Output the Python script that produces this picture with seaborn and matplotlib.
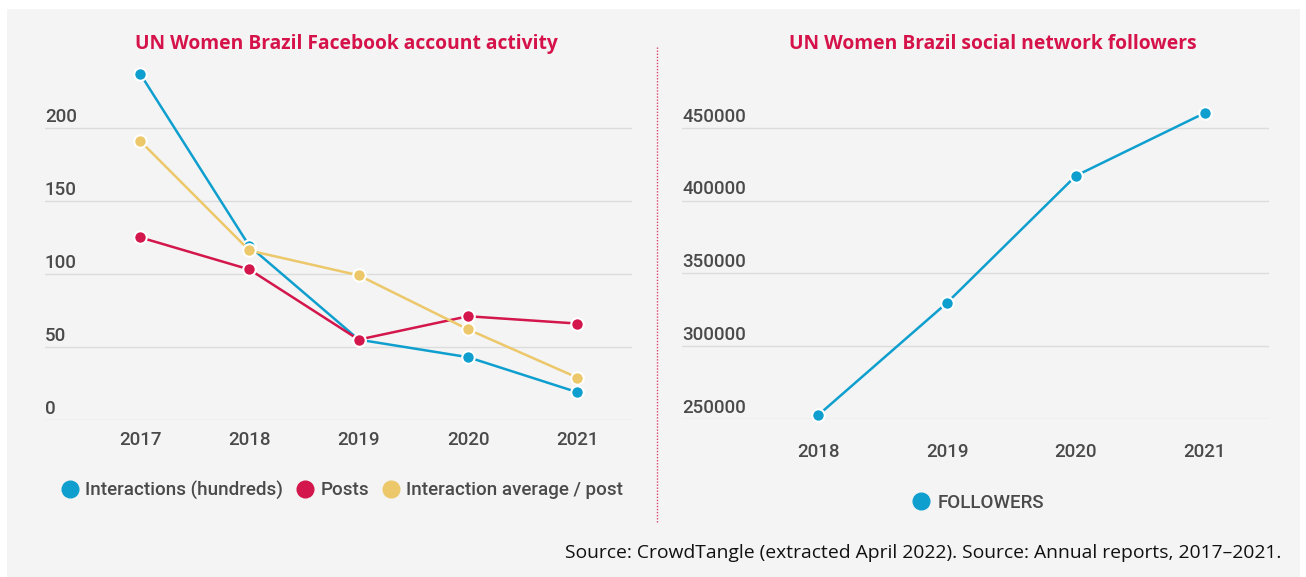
import matplotlib
matplotlib.use("Agg")
import matplotlib.pyplot as plt
import matplotlib.transforms as mtransforms
from matplotlib.lines import Line2D
from matplotlib.patches import Rectangle
import seaborn as sns
import pandas as pd

# ---------------- data ----------------
years_fb = [2017, 2018, 2019, 2020, 2021]
interactions = [237, 119, 55, 43, 19]
posts = [125, 103, 55, 71, 66]
interaction_avg = [191, 116, 99, 62, 29]
fb_series = ["Interactions (hundreds)", "Posts", "Interaction average / post"]
fb_yticks = [0, 50, 100, 150, 200]

years_fol = [2018, 2019, 2020, 2021]
followers = [253000, 330000, 417000, 460000]
fol_series = ["FOLLOWERS"]
fol_yticks = [250000, 300000, 350000, 400000, 450000]

title_left = "UN Women Brazil Facebook account activity"
title_right = "UN Women Brazil social network followers"
source = "Source: CrowdTangle (extracted April 2022). Source: Annual reports, 2017\u20132021."

# ---------------- style ----------------
BLUE = "#0f9fcf"
RED = "#d3164b"
YELLOW = "#ecc86a"
BG = "#f4f4f4"
GRID = "#dcdcdc"
TXT = "#4a4a4a"
TITLE = "#d5134a"

sns.set_theme(style="white")
plt.rcParams["font.family"] = ["Roboto", "DejaVu Sans"]

W, H = 1306, 577
fig = plt.figure(figsize=(W / 100, H / 100), dpi=100)
fig.patch.set_facecolor("white")
fig.add_artist(Rectangle((7 / W, 0), (1300 - 7) / W, (H - 9) / H,
                         transform=fig.transFigure, facecolor=BG,
                         edgecolor="none", zorder=-10))


def px_axes(x0, y0, x1, y1):
    return fig.add_axes([x0 / W, 1 - y1 / H, (x1 - x0) / W, (y1 - y0) / H])


df_fb = pd.DataFrame({
    "year": years_fb * 3,
    "value": interactions + posts + interaction_avg,
    "series": [fb_series[0]] * 5 + [fb_series[1]] * 5 + [fb_series[2]] * 5,
})
df_fol = pd.DataFrame({"year": years_fol, "value": followers,
                       "series": fol_series * len(years_fol)})


def style_axes(ax, yticks, xticks, xpad):
    ax.set_facecolor("none")
    for s in ax.spines.values():
        s.set_visible(False)
    ax.set_yticks(yticks)
    ax.set_xticks(xticks)
    ax.set_xticklabels([str(x) for x in xticks])
    ax.grid(axis="y", color=GRID, linewidth=1.0, zorder=0)
    ax.grid(axis="x", visible=False)
    ax.tick_params(axis="y", length=0, labelleft=False)
    ax.tick_params(axis="x", length=0, pad=xpad, labelsize=13.5,
                   labelcolor=TXT)
    for lbl in ax.get_xticklabels():
        lbl.set_fontweight("medium")
    trans = mtransforms.blended_transform_factory(ax.transAxes, ax.transData)
    for t in yticks:
        ax.annotate(f"{t}", xy=(0, t), xycoords=trans, xytext=(0, 1.5),
                    textcoords="offset points", ha="left", va="bottom",
                    fontsize=13.5, color=TXT, fontweight="medium")
    ax.set_xlabel("")
    ax.set_ylabel("")


# ---------------- left chart ----------------
ax1 = px_axes(45, 62, 632, 420)
sns.lineplot(data=df_fb, x="year", y="value", hue="series",
             palette=[BLUE, RED, YELLOW], hue_order=fb_series,
             marker="o", markersize=9, markeredgecolor="white",
             markeredgewidth=1.5, linewidth=1.8, ax=ax1, legend=False,
             clip_on=False, zorder=3)
ax1.set_xlim(2016.13, 2021.5)
ax1.set_ylim(0, 245)
style_axes(ax1, fb_yticks, years_fb, 8)

# ---------------- right chart ----------------
ax2 = px_axes(682, 62, 1269, 419.3)
sns.lineplot(data=df_fol, x="year", y="value", hue="series",
             palette=[BLUE], marker="o", markersize=9,
             markeredgecolor="white", markeredgewidth=1.5, linewidth=1.8,
             ax=ax2, legend=False, clip_on=False, zorder=3)
ax2.set_xlim(2016.94, 2021.5)
ax2.set_ylim(250000, 495000)
style_axes(ax2, fol_yticks, years_fol, 17)

# ---------------- titles ----------------
fig.text(346 / W, 1 - 44 / H, title_left, ha="center", va="center",
         fontsize=13.9, fontweight="bold", color=TITLE,
         family=["Open Sans", "DejaVu Sans"])
fig.text(993 / W, 1 - 44 / H, title_right, ha="center", va="center",
         fontsize=13.9, fontweight="bold", color=TITLE,
         family=["Open Sans", "DejaVu Sans"])

# ---------------- legends ----------------
def handles(colors):
    return [Line2D([], [], linestyle="none", marker="o", markersize=12,
                   markerfacecolor=c, markeredgecolor=c) for c in colors]

leg1 = fig.legend(handles([BLUE, RED, YELLOW]), fb_series, loc="center",
                  bbox_to_anchor=(342 / W, 1 - 490 / H), ncol=3,
                  frameon=False, fontsize=13.5, handletextpad=0.3,
                  columnspacing=0.7, handlelength=1.0, borderaxespad=0)
for t in leg1.get_texts():
    t.set_color(TXT)
    t.set_fontweight("medium")

leg2 = fig.legend(handles([BLUE]), fol_series, loc="center",
                  bbox_to_anchor=(978 / W, 1 - 503 / H), ncol=1,
                  frameon=False, fontsize=13.5, handletextpad=0.4,
                  handlelength=1.0, borderaxespad=0)
for t in leg2.get_texts():
    t.set_color(TXT)
    t.set_fontweight("medium")

# ---------------- separator & source ----------------
fig.add_artist(Line2D([657 / W, 657 / W], [1 - 47 / H, 1 - 523 / H],
                      transform=fig.transFigure, color=RED, linewidth=1,
                      linestyle=(0, (1, 1.2)), alpha=0.8))
fig.text(1281 / W, 1 - 553 / H, source, ha="right", va="center",
         fontsize=13.9, color="#111111", family=["Open Sans", "DejaVu Sans"])

fig.savefig("out.png", dpi=100, facecolor=fig.get_facecolor())
